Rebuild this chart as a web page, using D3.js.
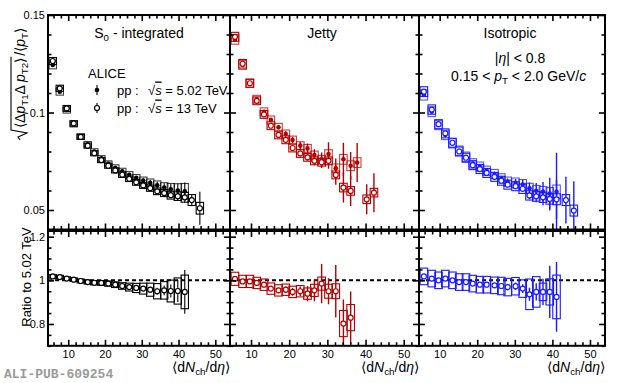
<!DOCTYPE html>
<html><head><meta charset="utf-8">
<script src="https://cdn.jsdelivr.net/npm/d3@7"></script>
<style>body{margin:0;background:#fff}svg{display:block;font-family:"Liberation Sans",Arial,Helvetica,sans-serif}</style>
</head><body><svg id="c" width="620" height="383"></svg>
<script>
// ---------------- DATA ----------------
const xTickValues = [10, 20, 30, 40, 50];
const yTopTicks = [0.05, 0.1, 0.15];
const yTopTickLabels = ["0.05", "0.1", "0.15"];
const yRatioTicks = [0.8, 1, 1.2];
const yRatioTickLabels = ["0.8", "1", "1.2"];
const panelNames = ["S0 - integrated", "Jetty", "Isotropic"];
const seriesNames = ["pp :  √s = 5.02 TeV", "pp :  √s = 13 TeV"];

// S0-integrated
const s0X502 = [5.8, 7.7, 9.6, 11.5, 13.4, 15.3, 17.1, 19.0, 20.9, 22.8, 24.7, 26.6, 28.5, 30.4, 32.3, 34.2, 36.1, 37.9, 39.8, 41.7];
const s0Y502 = [0.1244, 0.1107, 0.1013, 0.0941, 0.0877, 0.0837, 0.0800, 0.0765, 0.0738, 0.0717, 0.0699, 0.0681, 0.0665, 0.0651, 0.0639, 0.0627, 0.0615, 0.0606, 0.0600, 0.0596];
const s0Stat502 = [0.0005, 0.0005, 0.0005, 0.0005, 0.0005, 0.0005, 0.0005, 0.0005, 0.0006, 0.0007, 0.0008, 0.0009, 0.001, 0.0012, 0.0015, 0.0018, 0.0022, 0.0028, 0.0035, 0.0045];
const s0Sys502 = [0.002, 0.0018, 0.0016, 0.0015, 0.0014, 0.0014, 0.0014, 0.0014, 0.0014, 0.0015, 0.0015, 0.0016, 0.0017, 0.0018, 0.002, 0.0022, 0.0025, 0.003, 0.0035, 0.004];
const s0X13 = [5.8, 7.7, 9.6, 11.5, 13.4, 15.3, 17.1, 19.0, 20.9, 22.8, 24.7, 26.6, 28.5, 30.4, 32.3, 34.2, 36.1, 37.9, 39.8, 41.7, 43.6, 45.8];
const s0Y13 = [0.1264, 0.1124, 0.1021, 0.0944, 0.0875, 0.0830, 0.0791, 0.0756, 0.0727, 0.0703, 0.0681, 0.0660, 0.0642, 0.0626, 0.0612, 0.0596, 0.0587, 0.0576, 0.0571, 0.0565, 0.0551, 0.0509];
const s0Stat13 = [0.0003, 0.0003, 0.0003, 0.0003, 0.0003, 0.0003, 0.0003, 0.0003, 0.0004, 0.0004, 0.0005, 0.0005, 0.0006, 0.0007, 0.0008, 0.001, 0.0012, 0.0015, 0.002, 0.0025, 0.003, 0.0085];
const s0Sys13 = [0.0018, 0.0016, 0.0015, 0.0014, 0.0013, 0.0013, 0.0013, 0.0013, 0.0013, 0.0013, 0.0014, 0.0014, 0.0015, 0.0015, 0.0016, 0.0017, 0.0018, 0.002, 0.0022, 0.0025, 0.0028, 0.003];
const s0Ratio = [1.018, 1.015, 1.008, 1.003, 0.997, 0.992, 0.989, 0.988, 0.985, 0.980, 0.974, 0.969, 0.965, 0.962, 0.957, 0.950, 0.954, 0.951, 0.951, 0.947];
const s0RatioStat = [0.002, 0.002, 0.002, 0.002, 0.002, 0.003, 0.003, 0.003, 0.004, 0.004, 0.005, 0.006, 0.007, 0.009, 0.012, 0.016, 0.022, 0.03, 0.05, 0.1];
const s0RatioSys = [0.008, 0.008, 0.008, 0.008, 0.009, 0.009, 0.01, 0.011, 0.012, 0.013, 0.015, 0.018, 0.021, 0.025, 0.03, 0.035, 0.04, 0.05, 0.06, 0.077];

// Jetty
const jetX502 = [5.8, 7.8, 9.7, 11.5, 13.4, 15.2, 17.2, 19.1, 20.9, 22.9, 24.8, 26.6, 28.5, 30.3, 32.2, 34.2, 36.1, 37.8];
const jetY502 = [0.1375, 0.1244, 0.1150, 0.1068, 0.1004, 0.0962, 0.0924, 0.0890, 0.0859, 0.0830, 0.0816, 0.0782, 0.0760, 0.0787, 0.0714, 0.0760, 0.0727, 0.0743];
const jetStat502 = [0.0005, 0.0006, 0.0007, 0.0008, 0.0009, 0.001, 0.0012, 0.0014, 0.0017, 0.002, 0.0025, 0.003, 0.0035, 0.006, 0.005, 0.0085, 0.007, 0.01];
const jetSys502 = [0.0025, 0.0023, 0.0022, 0.002, 0.002, 0.002, 0.002, 0.002, 0.002, 0.002, 0.002, 0.002, 0.002, 0.0022, 0.0022, 0.0025, 0.0025, 0.0025];
const jetX13 = [5.8, 7.8, 9.7, 11.5, 13.4, 15.2, 17.2, 19.1, 20.9, 22.9, 24.8, 26.6, 28.5, 30.3, 32.2, 34.2, 36.1, 40.3, 42.2];
const jetY13 = [0.1388, 0.1250, 0.1150, 0.1060, 0.0990, 0.0932, 0.0885, 0.0860, 0.0818, 0.0790, 0.0770, 0.0752, 0.0745, 0.0752, 0.0680, 0.0615, 0.0598, 0.0555, 0.0589];
const jetStat13 = [0.0004, 0.0004, 0.0005, 0.0005, 0.0006, 0.0007, 0.0008, 0.001, 0.0012, 0.0014, 0.0018, 0.0022, 0.003, 0.004, 0.005, 0.0077, 0.0077, 0.0077, 0.01];
const jetSys13 = [0.0023, 0.0022, 0.002, 0.002, 0.002, 0.002, 0.002, 0.002, 0.002, 0.002, 0.002, 0.002, 0.002, 0.002, 0.002, 0.0022, 0.0022, 0.0022, 0.0022];
const jetRatio = [1.007, 0.995, 0.995, 0.988, 0.980, 0.962, 0.954, 0.957, 0.947, 0.950, 0.939, 0.954, 0.985, 0.950, 0.950, 0.802, 0.829];
const jetRatioStat = [0.004, 0.005, 0.006, 0.007, 0.008, 0.01, 0.012, 0.015, 0.018, 0.022, 0.035, 0.05, 0.09, 0.06, 0.12, 0.11, 0.12];
const jetRatioSys = [0.03, 0.028, 0.028, 0.026, 0.026, 0.026, 0.026, 0.026, 0.026, 0.026, 0.026, 0.028, 0.03, 0.032, 0.034, 0.06, 0.06];

// Isotropic
const isoX502 = [5.8, 7.9, 9.7, 11.5, 13.4, 15.2, 17.0, 18.8, 20.7, 22.5, 24.6, 26.4, 28.1, 30.2, 32.1, 33.9, 35.7, 37.5, 39.3, 41.1];
const isoY502 = [0.1090, 0.1004, 0.0936, 0.0885, 0.0842, 0.0804, 0.0773, 0.0739, 0.0722, 0.0701, 0.0684, 0.0662, 0.0645, 0.0639, 0.0631, 0.0611, 0.0599, 0.0593, 0.0585, 0.0593];
const isoStat502 = [0.0005, 0.0005, 0.0005, 0.0005, 0.0006, 0.0006, 0.0007, 0.0008, 0.0009, 0.001, 0.0012, 0.0014, 0.0016, 0.002, 0.0025, 0.003, 0.004, 0.005, 0.008, 0.02];
const isoSys502 = [0.0026, 0.0025, 0.0024, 0.0024, 0.0024, 0.0024, 0.0024, 0.0024, 0.0024, 0.0024, 0.0024, 0.0024, 0.0024, 0.0025, 0.0025, 0.0026, 0.0027, 0.0028, 0.003, 0.0035];
const isoX13 = [5.8, 7.9, 9.7, 11.5, 13.4, 15.2, 17.0, 18.8, 20.7, 22.5, 24.6, 26.4, 28.1, 30.2, 32.1, 33.9, 35.7, 37.5, 39.3, 41.1, 43.6, 45.7];
const isoY13 = [0.1107, 0.1015, 0.0940, 0.0893, 0.0845, 0.0800, 0.0768, 0.0730, 0.0710, 0.0690, 0.0670, 0.0650, 0.0630, 0.0622, 0.0609, 0.0575, 0.0570, 0.0565, 0.0557, 0.0555, 0.0551, 0.0497];
const isoStat13 = [0.0004, 0.0004, 0.0004, 0.0004, 0.0005, 0.0005, 0.0005, 0.0006, 0.0006, 0.0007, 0.0008, 0.001, 0.0012, 0.0014, 0.0017, 0.002, 0.003, 0.004, 0.006, 0.01, 0.012, 0.015];
const isoSys13 = [0.0025, 0.0024, 0.0023, 0.0023, 0.0023, 0.0023, 0.0023, 0.0023, 0.0023, 0.0023, 0.0023, 0.0023, 0.0023, 0.0023, 0.0024, 0.0024, 0.0025, 0.0026, 0.0027, 0.0028, 0.0028, 0.0028];
const isoRatio = [1.018, 1.008, 1.0, 1.008, 1.0, 0.992, 0.992, 0.985, 0.980, 0.980, 0.977, 0.974, 0.969, 0.973, 0.962, 0.936, 0.947, 0.947, 0.947, 0.924];
const isoRatioStat = [0.004, 0.004, 0.004, 0.005, 0.005, 0.006, 0.006, 0.007, 0.008, 0.009, 0.01, 0.012, 0.014, 0.017, 0.02, 0.03, 0.04, 0.06, 0.12, 0.16];
const isoRatioSys = [0.038, 0.038, 0.038, 0.038, 0.038, 0.038, 0.038, 0.038, 0.038, 0.038, 0.038, 0.04, 0.04, 0.04, 0.04, 0.07, 0.07, 0.04, 0.06, 0.1];

// ---------------- LAYOUT ----------------
const svg = d3.select("#c");
const topY0 = 15, topY1 = 229.5, botY0 = 231, botY1 = 345.8;
const xDomain = [4.5, 54];
const panels = [
  {x0: 48, x1: 230, color: "#000000", name: panelNames[0],
   x502: s0X502, y502: s0Y502, st502: s0Stat502, sy502: s0Sys502,
   x13: s0X13, y13: s0Y13, st13: s0Stat13, sy13: s0Sys13,
   r: s0Ratio, rst: s0RatioStat, rsy: s0RatioSys},
  {x0: 230, x1: 419, color: "#b40000", name: panelNames[1],
   x502: jetX502, y502: jetY502, st502: jetStat502, sy502: jetSys502,
   x13: jetX13, y13: jetY13, st13: jetStat13, sy13: jetSys13,
   r: jetRatio, rst: jetRatioStat, rsy: jetRatioSys},
  {x0: 419, x1: 605, color: "#1a1aff", name: panelNames[2],
   x502: isoX502, y502: isoY502, st502: isoStat502, sy502: isoSys502,
   x13: isoX13, y13: isoY13, st13: isoStat13, sy13: isoSys13,
   r: isoRatio, rst: isoRatioStat, rsy: isoRatioSys}
];
const yTop = d3.scaleLinear().domain([0.04, 0.15]).range([topY1, topY0]);
const yBot = d3.scaleLinear().domain([0.7, 1.226]).range([botY1, botY0]);
const xMinor = d3.range(6, 54, 2).filter(v => v % 10 !== 0);
const yTopMinor = d3.range(0.04, 0.1501, 0.01).map(v => +v.toFixed(3)).filter(v => !yTopTicks.includes(v));
const yBotMinor = d3.range(0.7, 1.226, 0.05).map(v => +v.toFixed(3)).filter(v => !yRatioTicks.includes(v));

function rich(t, parts) {
  parts.forEach(p => {
    const ts = t.append("tspan").text(p.t);
    if (p.i) ts.attr("font-style", "italic");
    if (p.sub) ts.attr("font-size", "0.7em").attr("baseline-shift", "-28%");
  });
  return t;
}

function axisGroup(axis, transform, showLabels) {
  const g = svg.append("g").attr("transform", transform).call(axis);
  g.select(".domain").remove();
  g.selectAll(".tick line").attr("stroke", "#000").attr("stroke-width", 1.6);
  g.selectAll("text").attr("font-size", 11).attr("fill", "#000").attr("font-family", '"Liberation Sans",Arial,sans-serif');
  if (!showLabels) g.selectAll("text").remove();
  return g;
}

const clipTop = svg.append("defs");

panels.forEach((p, pi) => {
  const x = d3.scaleLinear().domain(xDomain).range([p.x0, p.x1]);
  const col = p.color;
  const clipIdT = "ct" + pi, clipIdB = "cb" + pi;
  clipTop.append("clipPath").attr("id", clipIdT).append("rect")
    .attr("x", p.x0).attr("y", topY0).attr("width", p.x1 - p.x0).attr("height", topY1 - topY0);
  clipTop.append("clipPath").attr("id", clipIdB).append("rect")
    .attr("x", p.x0).attr("y", botY0).attr("width", p.x1 - p.x0).attr("height", botY1 - botY0);

  // ---- top panel data ----
  const gt = svg.append("g").attr("clip-path", `url(#${clipIdT})`);
  const hw = 1.0;
  const d502 = p.x502.map((v, i) => ({x: v, y: p.y502[i], st: p.st502[i], sy: p.sy502[i]}));
  const d13 = p.x13.map((v, i) => ({x: v, y: p.y13[i], st: p.st13[i], sy: p.sy13[i]}));
  // boxes
  [d502, d13].forEach((d, k) => {
    gt.append("g").selectAll("rect").data(d).join("rect")
      .attr("x", e => x(e.x - hw)).attr("width", e => x(e.x + hw) - x(e.x - hw))
      .attr("y", e => yTop(e.y + e.sy)).attr("height", e => yTop(e.y - e.sy) - yTop(e.y + e.sy))
      .attr("fill", "none").attr("stroke", col).attr("stroke-width", 1.1)
      .attr("stroke-opacity", k === 0 ? 0.75 : 1);
  });
  // stat bars
  [d502, d13].forEach(d => {
    gt.append("g").selectAll("line").data(d).join("line")
      .attr("x1", e => x(e.x)).attr("x2", e => x(e.x))
      .attr("y1", e => yTop(e.y + e.st)).attr("y2", e => yTop(e.y - e.st))
      .attr("stroke", col).attr("stroke-width", pi === 0 ? 1.1 : 1.4);
  });
  gt.append("g").selectAll("circle").data(d502).join("circle")
    .attr("cx", e => x(e.x)).attr("cy", e => yTop(e.y)).attr("r", 2.3).attr("fill", col);
  gt.append("g").selectAll("circle").data(d13).join("circle")
    .attr("cx", e => x(e.x)).attr("cy", e => yTop(e.y)).attr("r", 2.5)
    .attr("fill", "#fff").attr("stroke", col).attr("stroke-width", 1.2);

  // ---- ratio panel ----
  const gb = svg.append("g").attr("clip-path", `url(#${clipIdB})`);
  gb.append("line").attr("x1", p.x0).attr("x2", p.x1).attr("y1", yBot(1)).attr("y2", yBot(1))
    .attr("stroke", "#000").attr("stroke-width", 2).attr("stroke-dasharray", "4,3");
  const dr = p.r.map((v, i) => ({x: p.x502[i], y: v, st: p.rst[i], sy: p.rsy[i]}));
  gb.append("g").selectAll("rect").data(dr).join("rect")
    .attr("x", e => x(e.x - hw)).attr("width", e => x(e.x + hw) - x(e.x - hw))
    .attr("y", e => yBot(e.y + e.sy)).attr("height", e => yBot(e.y - e.sy) - yBot(e.y + e.sy))
    .attr("fill", "none").attr("stroke", col).attr("stroke-width", 1.1);
  gb.append("g").selectAll("line").data(dr).join("line")
    .attr("x1", e => x(e.x)).attr("x2", e => x(e.x))
    .attr("y1", e => yBot(e.y + e.st)).attr("y2", e => yBot(e.y - e.st))
    .attr("stroke", col).attr("stroke-width", pi === 0 ? 1.1 : 1.4);
  gb.append("g").selectAll("circle").data(dr).join("circle")
    .attr("cx", e => x(e.x)).attr("cy", e => yBot(e.y)).attr("r", 2.5)
    .attr("fill", "#fff").attr("stroke", col).attr("stroke-width", 1.2);

  // ---- axes (inward ticks on all sides) ----
  const M = 6, m = 3.5;
  // top panel
  axisGroup(d3.axisTop(x).tickValues(xTickValues).tickSize(-M), `translate(0,${topY0})`, false);
  axisGroup(d3.axisTop(x).tickValues(xMinor).tickSize(-m), `translate(0,${topY0})`, false);
  axisGroup(d3.axisBottom(x).tickValues(xTickValues).tickSize(-M), `translate(0,${topY1})`, false);
  axisGroup(d3.axisBottom(x).tickValues(xMinor).tickSize(-m), `translate(0,${topY1})`, false);
  axisGroup(d3.axisLeft(yTop).tickValues(yTopTicks).tickSize(-M).tickPadding(3)
    .tickFormat((d, i) => yTopTickLabels[i]), `translate(${p.x0},0)`, pi === 0);
  axisGroup(d3.axisLeft(yTop).tickValues(yTopMinor).tickSize(-m), `translate(${p.x0},0)`, false);
  axisGroup(d3.axisRight(yTop).tickValues(yTopTicks).tickSize(-M), `translate(${p.x1},0)`, false);
  axisGroup(d3.axisRight(yTop).tickValues(yTopMinor).tickSize(-m), `translate(${p.x1},0)`, false);
  // ratio panel
  axisGroup(d3.axisTop(x).tickValues(xTickValues).tickSize(-M), `translate(0,${botY0})`, false);
  axisGroup(d3.axisTop(x).tickValues(xMinor).tickSize(-m), `translate(0,${botY0})`, false);
  axisGroup(d3.axisBottom(x).tickValues(xTickValues).tickSize(-M).tickPadding(4), `translate(0,${botY1})`, true);
  axisGroup(d3.axisBottom(x).tickValues(xMinor).tickSize(-m), `translate(0,${botY1})`, false);
  axisGroup(d3.axisLeft(yBot).tickValues(yRatioTicks).tickSize(-M).tickPadding(3)
    .tickFormat((d, i) => yRatioTickLabels[i]), `translate(${p.x0},0)`, pi === 0);
  axisGroup(d3.axisLeft(yBot).tickValues(yBotMinor).tickSize(-m), `translate(${p.x0},0)`, false);
  axisGroup(d3.axisRight(yBot).tickValues(yRatioTicks).tickSize(-M), `translate(${p.x1},0)`, false);
  axisGroup(d3.axisRight(yBot).tickValues(yBotMinor).tickSize(-m), `translate(${p.x1},0)`, false);

  // frames
  svg.append("rect").attr("x", p.x0).attr("y", topY0).attr("width", p.x1 - p.x0).attr("height", topY1 - topY0)
    .attr("fill", "none").attr("stroke", "#000").attr("stroke-width", 2);
  svg.append("rect").attr("x", p.x0).attr("y", botY0).attr("width", p.x1 - p.x0).attr("height", botY1 - botY0)
    .attr("fill", "none").attr("stroke", "#000").attr("stroke-width", 2);

  // x title
  rich(svg.append("text").attr("x", p.x1).attr("y", 372).attr("text-anchor", "end").attr("font-size", 14),
    [{t: "⟨d"}, {t: "N", i: 1}, {t: "ch", sub: 1}, {t: "/d"}, {t: "η", i: 1}, {t: "⟩"}]);
});

// panel titles
const tS0 = svg.append("text").attr("x", 139).attr("y", 38).attr("text-anchor", "middle").attr("font-size", 14);
rich(tS0, [{t: "S"}, {t: "0", sub: 1}, {t: " - integrated"}]);
svg.append("text").attr("x", 322).attr("y", 38).attr("text-anchor", "middle").attr("font-size", 14).text(panelNames[1]);
svg.append("text").attr("x", 510).attr("y", 38).attr("text-anchor", "middle").attr("font-size", 14).text(panelNames[2]);
rich(svg.append("text").attr("x", 520).attr("y", 63).attr("text-anchor", "middle").attr("font-size", 14),
  [{t: "|"}, {t: "η", i: 1}, {t: "| < 0.8"}]);
rich(svg.append("text").attr("x", 451).attr("y", 81).attr("font-size", 14),
  [{t: "0.15 <  "}, {t: "p", i: 1}, {t: "T", sub: 1}, {t: " < 2.0 GeV/"}, {t: "c", i: 1}]);

// legend
svg.append("text").attr("x", 88).attr("y", 78).attr("font-size", 13).text("ALICE");
const legY = [90, 108];
legY.forEach((ly, k) => {
  svg.append("line").attr("x1", 97).attr("x2", 97).attr("y1", ly - 5).attr("y2", ly + 5)
    .attr("stroke", "#000").attr("stroke-width", 1.1);
  svg.append("circle").attr("cx", 97).attr("cy", ly).attr("r", k === 0 ? 2.3 : 2.5)
    .attr("fill", k === 0 ? "#000" : "#fff").attr("stroke", "#000").attr("stroke-width", k === 0 ? 0 : 1.2);
  svg.append("text").attr("x", 117).attr("y", ly + 4.5).attr("font-size", 13).text("pp :");
  const t = svg.append("text").attr("x", 148).attr("y", ly + 4.5).attr("font-size", 13);
  t.append("tspan").text("√");
  t.append("tspan").attr("font-style", "italic").style("text-decoration", "overline").text("s");
  t.append("tspan").text(k === 0 ? " = 5.02 TeV" : " = 13 TeV");
});

// y titles
const gy = svg.append("g").attr("transform", "translate(25,140) rotate(-90)");
const num = rich(gy.append("text").attr("x", 12).attr("y", 0).attr("font-size", 14),
  [{t: "⟨Δ"}, {t: "p", i: 1}, {t: "T1", sub: 1}, {t: "Δ "}, {t: "p", i: 1}, {t: "T2", sub: 1}, {t: "⟩"}]);
const L = num.node().getComputedTextLength();
rich(gy.append("text").attr("x", 12 + L + 2).attr("y", 0).attr("font-size", 14),
  [{t: "/⟨"}, {t: "p", i: 1}, {t: "T", sub: 1}, {t: "⟩"}]);
gy.append("path").attr("d", `M0,-5 L3,-7 L7,2 L10,-14 L${12 + L + 1},-14`)
  .attr("fill", "none").attr("stroke", "#000").attr("stroke-width", 1.1);

svg.append("text").attr("transform", "translate(31,277) rotate(-90)").attr("text-anchor", "middle")
  .attr("font-size", 13).text("Ratio to 5.02 TeV");

// watermark
svg.append("text").attr("x", 4).attr("y", 378).attr("font-family", '"Liberation Mono",monospace')
  .attr("font-weight", "bold").attr("font-size", 13).attr("fill", "#9a9a9a").text("ALI-PUB-609254");
</script></body></html>
